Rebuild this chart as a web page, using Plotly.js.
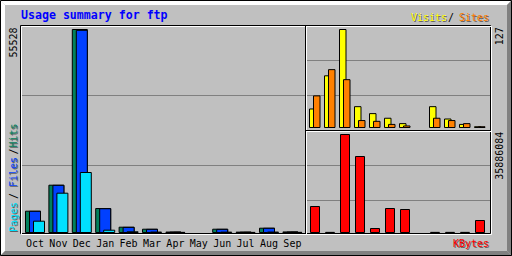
<!DOCTYPE html>
<html><head><meta charset="utf-8">
<script src="https://cdn.plot.ly/plotly-3.0.1.min.js"></script>
<style>html,body{margin:0;padding:0;background:#c0c0c0;}#chart{width:512px;height:256px;}</style>
</head><body><div id="chart"></div>
<script>
// ---- data ----
const months = ['Oct','Nov','Dec','Jan','Feb','Mar','Apr','May','Jun','Jul','Aug','Sep'];
const hits   = [5830, 12940, 55528, 6560, 1450, 900, 120, null, 900, 100, 1180, 150];
const files  = [5800, 12900, 55300, 6500, 1400, 860, 100, null, 860, 80, 1150, 120];
const pages  = [3090, 10750, 16410, 630, 200, 120, 40, null, 100, 30, 120, 50];
const visits = [24, 67, 127, 27, 18, 12, 5, null, 27, 11, 4, 1];
const sites  = [41, 75, 62, 9, 8, 4, 2, null, 12, 9, 5, 1];
const kbytes = [9520000, 50000, 35886084, 27830000, 1460000, 8790000, 8420000, null, 50000, 50000, 50000, 4390000];
const maxHits = 55528, maxVisits = 127, maxKB = 35886084;
const titleText = 'Usage summary for ftp';

// ---- geometry helpers (pixel -> paper) ----
const W = 512, H = 256;
const px = x => x / W;
const py = y => 1 - y / H;
const idx = months.map((m, i) => i);

const C = {hits:'#00805c', files:'#0040ff', pages:'#00e0ff', visits:'#ffff00', sites:'#ff8000', kb:'#ff0000',
           bg:'#c0c0c0', dk:'#808080', white:'#ffffff', black:'#000000'};

const UL = 23.4;  // px per month, left panel
const UR = 15;    // px per month, right panels

function bar(xa, ya, y, color, offPx, wPx, U) {
  return {type:'bar', x: idx, y: y, xaxis: xa, yaxis: ya,
    offset: offPx / U, width: wPx / U,
    marker: {color: color, line: {color: '#000', width: 1}},
    hoverinfo: 'skip'};
}

const traces = [
  bar('x', 'y', hits,  C.hits,  0, 15, UL),
  bar('x', 'y', files, C.files, 4, 11, UL),
  bar('x', 'y', pages, C.pages, 8, 11, UL),
  bar('x2', 'y2', visits, C.visits, 0, 6.5, UR),
  bar('x2', 'y2', sites,  C.sites,  4, 6.5, UR),
  bar('x3', 'y3', kbytes, C.kb, 1, 9, UR)
];

const kL = maxHits / 203, kT = maxVisits / 98, kB = maxKB / 98;
const hidden = {showgrid:false, zeroline:false, showline:false, showticklabels:false, ticks:'', fixedrange:true};

// ---- shapes ----
const shapes = [];
function line(x0, y0, x1, y1, color, layer) {
  shapes.push({type:'line', xref:'paper', yref:'paper', x0:px(x0), y0:py(y0), x1:px(x1), y1:py(y1),
    line:{color:color, width:1}, layer: layer || 'above'});
}
function poly(pts, color) {
  const d = 'M' + pts.map(p => px(p[0]) + ',' + py(p[1])).join('L') + 'Z';
  shapes.push({type:'path', xref:'paper', yref:'paper', path:d, fillcolor:color, line:{width:0}, layer:'below'});
}
// outer bevel
poly([[0,0],[512,0],[507,5],[5,5]], C.white);
poly([[0,0],[5,5],[5,251],[0,256]], C.white);
poly([[0,256],[5,251],[507,251],[512,256]], C.dk);
poly([[512,0],[512,256],[507,251],[507,5]], C.dk);
shapes.push({type:'rect', xref:'paper', yref:'paper', x0:px(0.5), y0:py(0.5), x1:px(511.5), y1:py(255.5),
  line:{color:'#000', width:1}, layer:'above'});
// grid lines
[95, 165].forEach(y => line(21, y + 0.5, 305, y + 0.5, C.dk, 'below'));
[60, 95, 165, 200].forEach(y => line(306, y + 0.5, 490, y + 0.5, C.dk, 'below'));
// panel frames: black then white (engraved look)
line(20.5, 25.5, 490.5, 25.5, C.black); line(20.5, 25.5, 20.5, 233.5, C.black);
line(20.5, 233.5, 490.5, 233.5, C.black); line(490.5, 25.5, 490.5, 233.5, C.black);
line(21.5, 26.5, 491.5, 26.5, C.white); line(21.5, 26.5, 21.5, 234.5, C.white);
line(21.5, 234.5, 491.5, 234.5, C.white); line(491.5, 26.5, 491.5, 234.5, C.white);
line(305.5, 25.5, 305.5, 233.5, C.black); line(306.5, 26.5, 306.5, 234.5, C.white);
line(305.5, 130.5, 490.5, 130.5, C.black); line(306.5, 131.5, 491.5, 131.5, C.white);

// ---- text ----
const FONT = 'DejaVu Sans Mono';
const ann = [];
function label(text, x, y, color, opt) {
  opt = opt || {};
  const base = {xref:'paper', yref:'paper', showarrow:false, textangle: opt.angle || 0,
    xanchor: opt.xa || 'center', yanchor: opt.ya || 'middle', borderpad:0};
  if (opt.shadow) ann.push(Object.assign({}, base, {text:text, x:px(x + 1), y:py(y + 1),
    font:{family:FONT, size: opt.size || 10, color:'#606060', weight: opt.weight || 'normal'}}));
  ann.push(Object.assign({}, base, {text:text, x:px(x), y:py(y),
    font:{family:FONT, size: opt.size || 10, color:color, weight: opt.weight || 'normal'}}));
}
label(titleText, 20, 15, '#0000ff', {xa:'left', size:11.6, weight:'bold'});
label('Visits', 448, 17, C.visits, {xa:'right', shadow:true});
label('/', 451, 17, C.black, {shadow:false});
label('Sites', 490, 17, C.sites, {xa:'right', shadow:true});
label('KBytes', 490, 243, C.kb, {xa:'right', shadow:true});
label(String(maxHits), 13, 42.5, C.black, {angle:-90});
label('Pages', 13, 217, C.pages, {angle:-90, shadow:true});
label('/', 13, 196, C.black, {angle:-90});
label('Files', 13, 172, C.files, {angle:-90, shadow:true});
label('/', 13, 151.5, C.black, {angle:-90});
label('Hits', 13, 135.5, C.hits, {angle:-90, shadow:true});
label(String(maxVisits), 499.5, 36.7, C.black, {angle:-90});
label(String(maxKB), 499.5, 156.3, C.black, {angle:-90});

const layout = {
  width: W, height: H, margin:{l:0, r:0, t:0, b:0, pad:0},
  paper_bgcolor: C.bg, plot_bgcolor: 'rgba(0,0,0,0)',
  showlegend: false, barmode: 'overlay',
  xaxis: Object.assign({}, hidden, {domain:[px(20), px(305)], range:[-5.5/UL, (285-5.5)/UL],
    showticklabels:true, tickmode:'array', tickvals: idx.map(i => i + 9.5/UL), ticktext: months,
    tickfont:{family:FONT, size:10, color:'#000'}, ticklabelstandoff: 2, anchor:'y'}),
  yaxis: Object.assign({}, hidden, {domain:[1 - 234/H, 1 - 25/H], range:[-1.5*kL, 207.5*kL], anchor:'x'}),
  xaxis2: Object.assign({}, hidden, {domain:[px(305), px(491)], range:[-4.5/UR, (186-4.5)/UR], anchor:'y2'}),
  yaxis2: Object.assign({}, hidden, {domain:[1 - 130/H, 1 - 25/H], range:[-2.5*kT, 102.5*kT], anchor:'x2'}),
  xaxis3: Object.assign({}, hidden, {domain:[px(305), px(491)], range:[-4.5/UR, (186-4.5)/UR], anchor:'y3'}),
  yaxis3: Object.assign({}, hidden, {domain:[1 - 234/H, 1 - 130/H], range:[-1.5*kB, 102.5*kB], anchor:'x3'}),
  shapes: shapes, annotations: ann
};
Plotly.newPlot('chart', traces, layout, {staticPlot:true, displayModeBar:false});
</script></body></html>
